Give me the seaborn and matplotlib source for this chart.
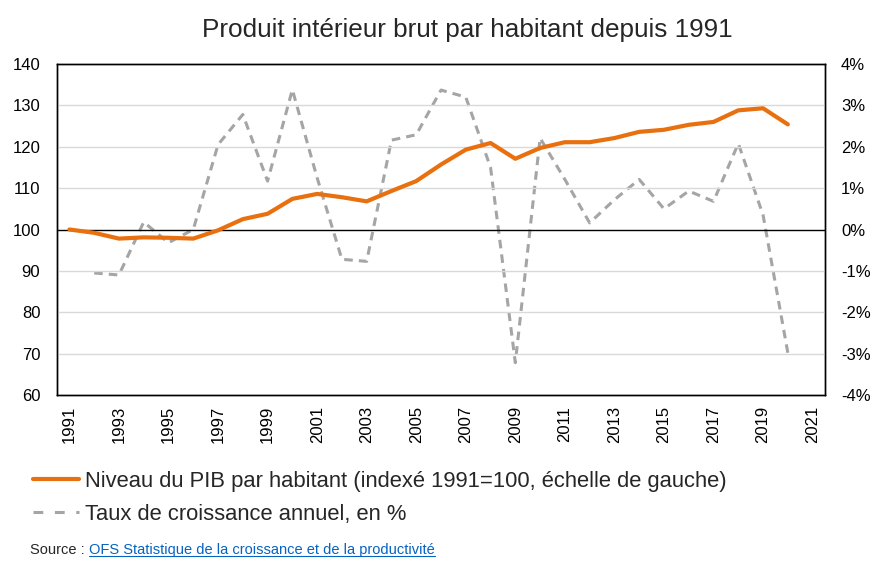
import numpy as np
import pandas as pd
import matplotlib.pyplot as plt
import seaborn as sns
from matplotlib.lines import Line2D

# data
years = list(range(1991, 2021))
pib_index = [100.0, 99.2, 97.8, 98.1, 98.0, 97.8, 99.8, 102.5, 103.8, 107.4,
             108.6, 107.8, 106.8, 109.3, 111.7, 115.7, 119.3, 120.9, 117.1, 119.7,
             121.1, 121.1, 122.1, 123.6, 124.1, 125.3, 126.0, 128.8, 129.3, 125.4]
growth = [np.nan, -1.05, -1.1, 0.18, -0.32, 0.0, 2.05, 2.78, 1.17, 3.38,
          1.25, -0.72, -0.77, 2.16, 2.29, 3.37, 3.2, 1.5, -3.22, 2.21,
          1.21, 0.16, 0.72, 1.21, 0.5, 0.93, 0.68, 2.08, 0.35, -2.98]
left_ticks = [60, 70, 80, 90, 100, 110, 120, 130, 140]
right_ticks = [-4, -3, -2, -1, 0, 1, 2, 3, 4]
year_ticks = list(range(1991, 2022, 2))

df = pd.DataFrame({'year': years, 'pib': pib_index, 'growth': growth})

sns.set_style("white")
plt.rcParams['font.family'] = ['Liberation Sans', 'DejaVu Sans']

orange = '#E8700F'
grey = '#A5A5A5'
dash = [2.8, 2.0]

fig = plt.figure(figsize=(8.86, 5.69), dpi=100)
ax = fig.add_axes([57/886, 1 - 395/569, (825 - 57)/886, (395 - 64)/569])
ax2 = ax.twinx()

# growth on the right axis, drawn below the index line
sns.lineplot(data=df, x='year', y='growth', ax=ax2, color=grey, linewidth=2.2, zorder=2)
ax2.lines[0].set_dashes(dash)
ax2.set_ylim(-4, 4)
ax2.set_yticks(right_ticks)
ax2.set_yticklabels([f"{t}%" for t in right_ticks])
ax2.set_ylabel('')

sns.lineplot(data=df, x='year', y='pib', ax=ax, color=orange, linewidth=3.0, zorder=3)
ax.set_ylim(60, 140)
ax.set_yticks(left_ticks)
ax.set_xlim(1990.5, 2021.5)
ax.set_xticks(year_ticks)
ax.set_xticklabels([str(y) for y in year_ticks], rotation=90)
ax.set_xlabel('')
ax.set_ylabel('')

# index line over the growth line
ax.set_zorder(ax2.get_zorder() + 1)
ax.patch.set_visible(False)

for t in left_ticks:
    if t == 100:
        ax.axhline(t, color='black', linewidth=1.0, zorder=1)
    elif t not in (60, 140):
        ax.axhline(t, color='#D9D9D9', linewidth=1.0, zorder=0)

for a in (ax, ax2):
    for s in a.spines.values():
        s.set_color('black')
        s.set_linewidth(1.0)
    a.tick_params(length=0, labelsize=12, colors='black')
ax.tick_params(axis='y', pad=12)
ax.tick_params(axis='x', pad=8)
ax2.tick_params(axis='y', pad=11.5)

fig.text(467/886, 1 - 30/569, 'Produit intérieur brut par habitant depuis 1991',
         ha='center', va='center', fontsize=18.8)

handles = [Line2D([], [], color=orange, linewidth=3.0),
           Line2D([], [], color=grey, linewidth=2.2, dashes=[3.2, 3.8])]
labels = ['Niveau du PIB par habitant (indexé 1991=100, échelle de gauche)',
          'Taux de croissance annuel, en %']
fig.legend(handles, labels, loc='upper left', bbox_to_anchor=(33/886, 1 - 471/569),
           frameon=False, fontsize=15.8, handlelength=2.1, handletextpad=0.25,
           labelspacing=0.55, borderaxespad=0, borderpad=0)

src = fig.text(30/886, 1 - 550/569, 'Source : ', fontsize=10.5, va='center')
fig.canvas.draw()
bb = src.get_window_extent()
x_link = bb.x1 / fig.bbox.width
link = fig.text(x_link, 1 - 550/569, 'OFS Statistique de la croissance et de la productivité',
                fontsize=10.5, va='center', color='#0563C1')
fig.canvas.draw()
lb = link.get_window_extent()
fig.add_artist(Line2D([lb.x0 / fig.bbox.width, lb.x1 / fig.bbox.width],
                      [(lb.y0 + 1) / fig.bbox.height] * 2,
                      color='#0563C1', linewidth=0.8))

fig.savefig('out.png', dpi=100)
